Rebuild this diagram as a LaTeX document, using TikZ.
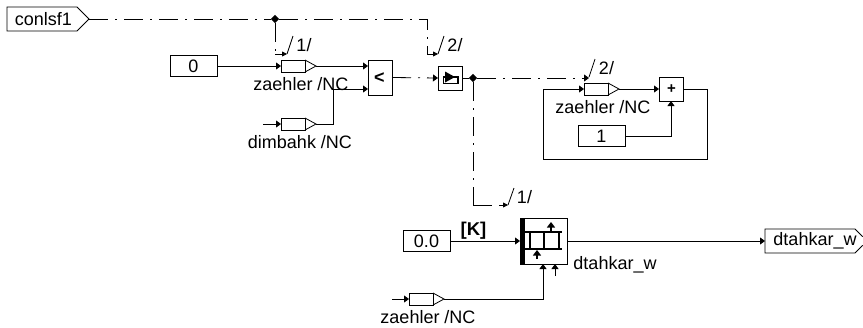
\documentclass[tikz,border=0pt]{standalone}
\usepackage{fontspec}
\setmainfont{Liberation Sans}
\usetikzlibrary{arrows.meta,calc,shapes.geometric}
\tikzset{
  wire/.style={line width=0.8pt,-{Triangle[length=5pt,width=7pt]}},
  plain/.style={line width=0.8pt},
  sigline/.style={line width=0.8pt,dash pattern=on 19pt off 7pt on 2pt off 7pt},
  sigarrow/.style={sigline,-{Triangle[length=5pt,width=7pt]}},
  shortarrow/.style={line width=0.8pt,-{Triangle[length=5pt,width=5pt]}},
  slash/.style={line width=0.8pt},
  constbox/.style={draw,line width=0.8pt,minimum width=47pt,minimum height=21pt,inner sep=0pt,outer sep=0pt,font=\fontsize{18}{20}\selectfont},
  convbox/.style={draw,line width=0.8pt,minimum width=24pt,minimum height=12pt,inner sep=0pt,outer sep=0pt},
  opbox/.style={draw,line width=0.8pt,minimum width=24pt,inner sep=0pt,outer sep=0pt},
  lbl/.style={inner sep=0pt,font=\fontsize{18}{20}\selectfont},
  junc/.style={diamond,fill=black,inner sep=0pt,minimum size=8.5pt},
}
\newcommand{\convtri}[2]{%
  \draw[line width=0.8pt] (#1.north east) -- ($(#1.east)+(11,0)$) coordinate (#2) -- (#1.south east);}
\begin{document}
\begin{tikzpicture}[x=1pt,y=-1pt]
\useasboundingbox (0,0) rectangle (863,327);
% input
\draw[line width=0.8pt] (7,7) -- (77,7) -- (89,19) coordinate (inTip) -- (77,31) -- (7,31) -- cycle;
\node[lbl] (inT) at (43.5,19) {conlsf1};
% junctions
\node[junc] (j1) at (275,19) {};
\node[junc] (j2) at (473,78) {};
% constants
\node[constbox] (c0) at (193.5,66) {0};
\node[constbox] (c1) at (601.5,136) {1};
\node[constbox] (c00) at (426.5,241) {0.0};
% converters
\node[convbox] (z1) at (293,66) {};
\convtri{z1}{z1o}
\node[lbl] (z1l) at (301,84) {zaehler /NC};
\node[convbox] (d1) at (293,124) {};
\convtri{d1}{d1o}
\node[lbl] (d1l) at (300,142) {dimbahk /NC};
\node[convbox] (z2) at (596,89) {};
\convtri{z2}{z2o}
\node[lbl] (z2l) at (603,107) {zaehler /NC};
\node[convbox] (z3) at (421,299) {};
\convtri{z3}{z3o}
\node[lbl] (z3l) at (428,317) {zaehler /NC};
% operators
\node[opbox,minimum height=35pt] (lt) at (380,77.5) {};
\node[inner sep=0pt,font=\bfseries\fontsize{18}{20}\selectfont] (ltT) at (379.5,78) {<};
\node[opbox,minimum height=24pt] (sw) at (450,78) {};
\node[opbox,minimum height=24pt] (pl) at (671,89) {};
\node[inner sep=0pt,font=\bfseries\fontsize{15}{17}\selectfont] (plT) at (671.5,89) {+};
% switch icon
\draw[line width=1.1pt] (443.5,77) rectangle (458,83.5);
\fill (445,71.5) -- (455,77) -- (445,82.5) -- cycle;
% big block
\node[draw,line width=0.8pt,minimum width=47pt,minimum height=46pt,inner sep=0pt,outer sep=0pt] (arr) at (543.5,241) {};
\fill (520,218) rectangle (525,264);
\draw[line width=1.4pt] (525,232) -- (562,232) (525,249) -- (562,249)
  (530,232) -- (530,249) (544,232) -- (544,249) (559,232) -- (559,249);
\draw[line width=1.2pt,-{Triangle[length=5.5pt,width=8pt]}] (551,232) -- (551,222);
\draw[line width=1.2pt,-{Triangle[length=5.5pt,width=8pt]}] (537,259) -- (537,250);
% output
\draw[line width=0.8pt] (862.7,236.7) -- (855,229) -- (765,229) -- (765,253) -- (855,253) -- (862.7,245.3);
\coordinate (outL) at (765,241);
\node[lbl] (outT) at (815,241) {dtahkar\_w};
% labels
\node[lbl] (dl) at (615,264.5) {dtahkar\_w};
\node[inner sep=0pt,font=\bfseries\fontsize{18.5}{20}\selectfont] (kl) at (473.5,231) {[K]};
\node[lbl] (s1) at (304,45) {1/};
\node[lbl] (s2) at (455,45) {2/};
\node[lbl] (s3) at (606.5,68) {2/};
\node[lbl] (s4) at (524.5,197) {1/};
% free coordinates
\coordinate (free1) at (263,124);
\coordinate (free2) at (392,299);
\coordinate (free3) at (555,276);
% solid wires
\draw[wire] (c0.east) -- (z1.west);
\draw[wire] (free1) -- (d1.west);
\draw[wire] (z1o) -- (lt.west |- z1o);
\draw[wire] (d1o) -- (333,124) -- (333,89) -- (368,89);
\draw[wire] (z2o) -- (pl.west |- z2o);
\draw[wire] (c1.east) -| (pl.south);
\draw[wire] (pl.east) -- (707,89) -- (707,159) -- (543,159) -- (543,89) -- (z2.west);
\draw[wire] (c00.east) -- (arr.west);
\draw[wire] (arr.east) -- (outL);
\draw[wire] (free2) -- (z3.west);
\draw[wire] (z3o) -| (543,264);
\draw[wire] (free3) -- (555,264);
% signal wires
\draw[sigline] (inTip) -- (j1);
\draw[sigline] (j1) -- (427,19) -- (427,54);
\draw[shortarrow] (427,54) -- (438,54);
\draw[sigline] (j1) -- (275,54);
\draw[shortarrow] (275,54) -- (287,54);
\draw[sigarrow] (lt.east) -- (sw.west);
\draw[plain] (sw.east) -- (j2);
\draw[sigarrow] (j2) -- (589,78);
\draw[sigline] (j2) -- (473,205);
\draw[sigline] (473,205) -- (504,205);
\draw[shortarrow] (500,205) -- (508,205);
% slashes
\draw[slash] (287,54) -- (293,36);
\draw[slash] (438,54) -- (444,36);
\draw[slash] (589,77) -- (595,59);
\draw[slash] (508,205) -- (514,188);
\end{tikzpicture}
\end{document}
